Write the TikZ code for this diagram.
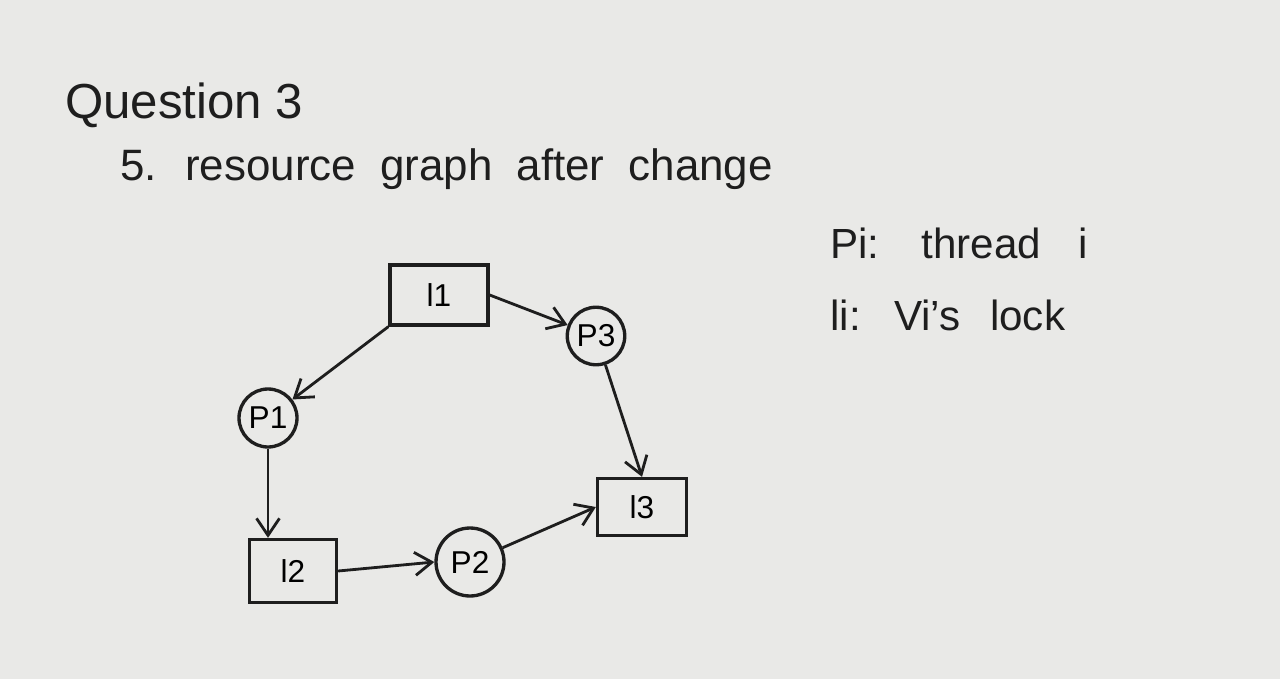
\documentclass[tikz,border=0pt]{standalone}
\usepackage{fontspec}
\setmainfont{Liberation Sans}
\usetikzlibrary{arrows.meta}
\definecolor{paper}{RGB}{233,233,231}
\definecolor{ink}{RGB}{30,30,30}
\tikzset{
  lockbox/.style={draw=ink, line width=1.9pt, rectangle, inner sep=0pt, font=\fontsize{18}{20}\selectfont},
  thread/.style={draw=ink, line width=1.9pt, circle, inner sep=0pt, font=\fontsize{18}{20}\selectfont},
  edge/.style={draw=ink, line width=1.6pt, -{Straight Barb[length=3.4mm,width=4.6mm,line width=1.6pt]}},
  title/.style={anchor=base west, inner sep=0pt, text=ink},
}
\begin{document}
\begin{tikzpicture}[x=0.02cm, y=-0.02cm]
\fill[paper] (0,0) rectangle (1280,679);
\useasboundingbox (0,0) rectangle (1280,679);

\node[title, font=\fontsize{28}{30}\selectfont] (q) at (65,118) {Question 3};
\node[title, font=\fontsize{25}{28}\selectfont] (sub) at (120,180) {\spaceskip=0.55em 5. resource graph after change};
\node[title, font=\fontsize{24}{26}\selectfont] (leg1) at (830,258) {\spaceskip=0.9em Pi: thread i};
\node[title, font=\fontsize{24}{26}\selectfont] (leg2) at (830,330) {\spaceskip=0.7em li: Vi's lock};

\node[lockbox, minimum width=1.96cm, minimum height=1.2cm] (L1) at (439,295) {l1};
\node[lockbox, minimum width=1.74cm, minimum height=1.26cm] (L2) at (293,571) {l2};
\node[lockbox, minimum width=1.78cm, minimum height=1.14cm] (L3) at (642,507) {l3};
\node[thread, minimum size=1.15cm] (P3) at (596,336) {P3};
\node[thread, minimum size=1.16cm] (P1) at (268,418) {P1};
\node[thread, minimum size=1.36cm] (P2) at (470,562) {P2};

\draw[edge] (L1.east) -- (P3);
\draw[edge] (L1.south west) -- (P1);
\draw[edge] (P1.south) -- (P1.south |- L2.north);
\draw[edge] (L2.east) -- (P2.west);
\draw[edge] (P2) -- (L3.west);
\draw[edge] (P3) -- (L3.north);
\end{tikzpicture}
\end{document}
